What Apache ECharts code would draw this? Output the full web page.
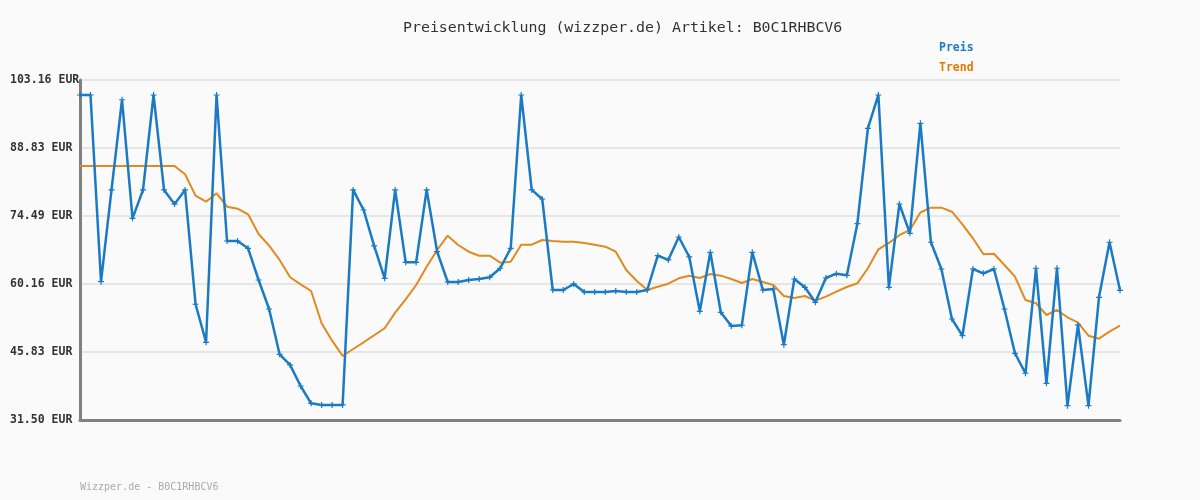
<!DOCTYPE html>
<html>
<head>
<meta charset="utf-8">
<script src="https://cdn.jsdelivr.net/npm/echarts@6/dist/echarts.min.js"></script>
<style>
html,body{margin:0;padding:0;background:#fafafa;}
#c{width:1200px;height:500px;}
</style>
</head>
<body>
<div id="c"></div>
<script>
const titleText = 'Preisentwicklung (wizzper.de) Artikel: B0C1RHBCV6';
const footerText = 'Wizzper.de - B0C1RHBCV6';
const seriesNames = ['Preis', 'Trend'];
const yTickLabels = ['31.50', '45.83', '60.16', '74.49', '88.83', '103.16'];
const yMin = 31.5;
const yMax = 103.16;

const preis = [
  100, 100, 60.65, 80, 99, 74, 80, 100, 80, 77,
  80, 55.9, 47.88, 100, 69.23, 69.23, 67.69, 61.01, 54.9, 45.35,
  43.1, 38.67, 35.02, 34.67, 34.67, 34.67, 80, 75.76, 68.18, 61.37,
  80, 64.74, 64.74, 80, 66.97, 60.59, 60.59, 61.01, 61.22, 61.58,
  63.48, 67.69, 100, 80, 78.08, 58.9, 58.9, 60.17, 58.48, 58.48,
  58.48, 58.69, 58.48, 58.48, 58.9, 66.13, 65.23, 70.07, 65.86, 54.41,
  66.85, 54.2, 51.32, 51.47, 66.85, 58.9, 59.11, 47.37, 61.22, 59.47,
  56.31, 61.43, 62.34, 62.0, 72.88, 92.98, 100, 59.47, 77.03, 70.85,
  94.03, 68.96, 63.33, 52.79, 49.27, 63.33, 62.42, 63.33, 54.9, 45.56,
  41.35, 63.48, 39.24, 63.48, 34.52, 51.53, 34.52, 57.36, 68.96, 58.84
];

const trend = [
  85.04, 85.04, 85.04, 85.04, 85.04, 85.04, 85.04, 85.04, 85.04, 85.04,
  83.29, 78.78, 77.51, 79.28, 76.46, 76.04, 74.86, 70.7, 68.24, 65.23,
  61.58, 60.1, 58.69, 51.88, 48.22, 44.99, 46.47, 47.88, 49.36, 50.83,
  54.12, 56.94, 59.96, 63.81, 67.33, 70.35, 68.39, 66.97, 66.13, 66.13,
  64.66, 64.87, 68.45, 68.45, 69.44, 69.23, 69.08, 69.08, 68.81, 68.45,
  68.03, 66.97, 63.12, 60.8, 58.9, 59.6, 60.23, 61.37, 61.92, 61.43,
  62.27, 61.92, 61.22, 60.38, 61.22, 60.59, 59.96, 57.64, 57.22, 57.64,
  56.65, 57.49, 58.54, 59.53, 60.31, 63.48, 67.48, 68.81, 70.45, 71.55,
  75.24, 76.25, 76.25, 75.4, 72.75, 69.8, 66.43, 66.55, 64.17, 61.71,
  56.79, 56.1, 53.63, 54.69, 53.15, 52.01, 49.27, 48.64, 50.11, 51.38
];

const categories = preis.map((_, i) => String(i + 1));

const chart = echarts.init(document.getElementById('c'), null, {renderer: 'canvas'});
const mono = '"DejaVu Sans Mono", "Liberation Mono", monospace';
chart.setOption({
  backgroundColor: '#fafafa',
  animation: false,
  title: [{
    text: titleText,
    left: 398,
    top: 16,
    textStyle: {fontFamily: mono, fontSize: 14.9, fontWeight: 'normal', color: '#333'}
  }, {
    text: footerText,
    left: 75,
    top: 477,
    textStyle: {fontFamily: mono, fontSize: 10, fontWeight: 'normal', color: '#aaaaaa'}
  }],
  legend: {
    data: [
      {name: seriesNames[0], textStyle: {color: '#1a7ac4'}},
      {name: seriesNames[1], textStyle: {color: '#e07b00'}}
    ],
    orient: 'vertical',
    left: 929,
    top: 37,
    itemWidth: 0,
    itemHeight: 0,
    itemGap: 8,
    icon: 'rect',
    textStyle: {fontFamily: mono, fontSize: 11.5, fontWeight: 'bold'}
  },
  grid: {left: 80, right: 80, top: 80, bottom: 80, containLabel: false},
  xAxis: {
    type: 'category',
    data: categories,
    boundaryGap: false,
    axisLine: {show: true, lineStyle: {color: '#808080', width: 3}},
    axisTick: {show: false},
    axisLabel: {show: false},
    splitLine: {show: false}
  },
  yAxis: {
    type: 'value',
    min: yMin,
    max: yMax,
    interval: (yMax - yMin) / 5,
    axisLine: {show: true, onZero: false, lineStyle: {color: '#808080', width: 3}},
    axisTick: {show: false},
    axisLabel: {
      margin: 70,
      align: 'left',
      fontFamily: mono,
      fontSize: 11.5,
      fontWeight: 'bold',
      color: '#333',
      formatter: function (v, idx) { return yTickLabels[idx] + ' EUR'; }
    },
    splitLine: {show: true, lineStyle: {color: '#e6e6e6', width: 2}}
  },
  series: [
    {
      name: seriesNames[0],
      type: 'line',
      data: preis,
      z: 3,
      symbol: 'path://M2,0H3V2H5V3H3V5H2V3H0V2H2Z',
      symbolSize: 6,
      showSymbol: true,
      itemStyle: {color: '#1a7ac4'},
      lineStyle: {color: '#1a7ac4', width: 2.5}
    },
    {
      name: seriesNames[1],
      type: 'line',
      data: trend,
      z: 2,
      showSymbol: false,
      symbol: 'none',
      itemStyle: {color: '#e07b00'},
      lineStyle: {color: '#e08a20', width: 2}
    }
  ]
});
</script>
</body>
</html>
